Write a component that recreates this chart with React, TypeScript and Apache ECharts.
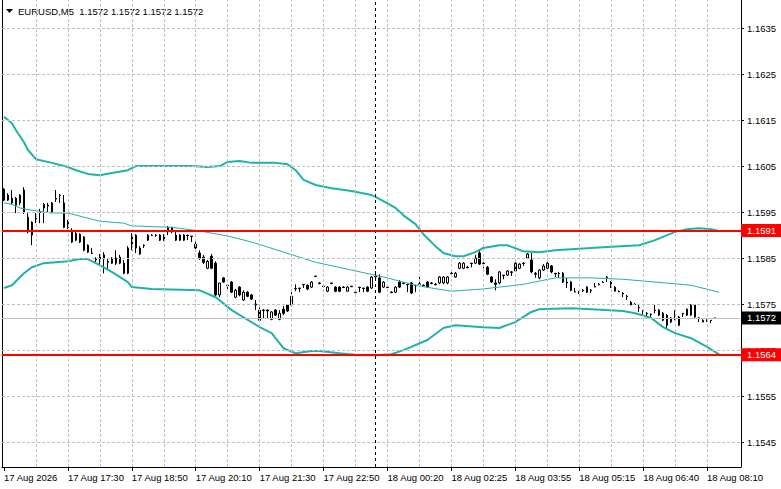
import React, { useEffect, useRef } from "react";
import * as echarts from "echarts";

const FONT = "Liberation Sans";
const FS = 9.5;

const tickLabels = [
  "17 Aug 2026", "17 Aug 17:30", "17 Aug 18:50", "17 Aug 20:10", "17 Aug 21:30", "17 Aug 22:50",
  "18 Aug 00:20", "18 Aug 02:25", "18 Aug 03:55", "18 Aug 05:15", "18 Aug 06:40", "18 Aug 08:10",
];
const labelEvery = 16;
const gridEvery = 8;
const slotCount = 185;

const priceTicks = [1.1545, 1.1555, 1.1565, 1.1575, 1.1585, 1.1595, 1.1605, 1.1615, 1.1625, 1.1635];
const yMin = 1.15396;
const yMax = 1.16411;

const resistanceLevel = 1.1591;
const supportLevel = 1.1564;
const lastPrice = 1.1572;
const separatorIndex = 93;

const opens = [
  1.16000, 1.15976, 1.15980, 1.15980, 1.15970, 1.15998, 1.15939, 1.15900, 1.15933, 1.15950,
  1.15959, 1.15965, 1.15950, 1.15978, 1.15987, 1.15970, 1.15928, 1.15907, 1.15904, 1.15902,
  1.15896, 1.15878, 1.15861, 1.15848, 1.15854, 1.15857, 1.15843, 1.15850, 1.15850, 1.15852,
  1.15839, 1.15817, 1.15874, 1.15900, 1.15859, 1.15878, 1.15889, 1.15900, 1.15900, 1.15900,
  1.15900, 1.15907, 1.15907, 1.15900, 1.15900, 1.15900, 1.15900, 1.15898, 1.15880, 1.15861,
  1.15852, 1.15828, 1.15854, 1.15839, 1.15770, 1.15807, 1.15791, 1.15798, 1.15765, 1.15787,
  1.15759, 1.15776, 1.15770, 1.15750, 1.15737, 1.15737, 1.15737, 1.15717, 1.15737, 1.15717,
  1.15739, 1.15748, 1.15748, 1.15783, 1.15785, 1.15793, 1.15791, 1.15787, 1.15811, 1.15796,
  1.15789, 1.15778, 1.15796, 1.15787, 1.15787, 1.15787, 1.15778, 1.15789, 1.15776, 1.15787,
  1.15785, 1.15787, 1.15785, 1.15809, 1.15807, 1.15787, 1.15787, 1.15776, 1.15776, 1.15798,
  1.15796, 1.15793, 1.15796, 1.15791, 1.15793, 1.15791, 1.15798, 1.15796, 1.15793, 1.15796,
  1.15796, 1.15796, 1.15817, 1.15809, 1.15828, 1.15828, 1.15830, 1.15839, 1.15839, 1.15861,
  1.15839, 1.15830, 1.15809, 1.15796, 1.15796, 1.15813, 1.15813, 1.15820, 1.15839, 1.15828,
  1.15839, 1.15850, 1.15846, 1.15817, 1.15807, 1.15824, 1.15828, 1.15833, 1.15817, 1.15817,
  1.15817, 1.15798, 1.15798, 1.15776, 1.15778, 1.15780, 1.15776, 1.15780, 1.15787, 1.15793,
  1.15798, 1.15809, 1.15798, 1.15778, 1.15778, 1.15774, 1.15767, 1.15748, 1.15750, 1.15743,
  1.15735, 1.15730, 1.15728, 1.15737, 1.15726, 1.15730, 1.15726, 1.15711, 1.15726, 1.15722,
  1.15730, 1.15726, 1.15726, 1.15748, 1.15720, 1.15711, 1.15715, 1.15715, 1.15720,
];

const closes = [
  1.15976, 1.15987, 1.15970, 1.15965, 1.15987, 1.15950, 1.15907, 1.15928, 1.15937, 1.15949,
  1.15967, 1.15963, 1.15970, 1.15980, 1.15986, 1.15917, 1.15917, 1.15885, 1.15889, 1.15885,
  1.15867, 1.15863, 1.15860, 1.15846, 1.15843, 1.15848, 1.15841, 1.15839, 1.15839, 1.15839,
  1.15817, 1.15872, 1.15900, 1.15872, 1.15872, 1.15877, 1.15900, 1.15899, 1.15899, 1.15889,
  1.15889, 1.15917, 1.15917, 1.15889, 1.15889, 1.15889, 1.15899, 1.15897, 1.15872, 1.15850,
  1.15841, 1.15843, 1.15828, 1.15770, 1.15796, 1.15798, 1.15790, 1.15776, 1.15780, 1.15770,
  1.15776, 1.15767, 1.15761, 1.15748, 1.15715, 1.15736, 1.15735, 1.15733, 1.15726, 1.15730,
  1.15730, 1.15735, 1.15767, 1.15784, 1.15784, 1.15792, 1.15783, 1.15798, 1.15810, 1.15795,
  1.15788, 1.15787, 1.15795, 1.15778, 1.15778, 1.15786, 1.15787, 1.15788, 1.15775, 1.15786,
  1.15784, 1.15778, 1.15809, 1.15811, 1.15776, 1.15798, 1.15786, 1.15775, 1.15787, 1.15787,
  1.15795, 1.15792, 1.15774, 1.15790, 1.15794, 1.15790, 1.15787, 1.15795, 1.15792, 1.15809,
  1.15809, 1.15809, 1.15816, 1.15817, 1.15839, 1.15839, 1.15829, 1.15838, 1.15850, 1.15837,
  1.15838, 1.15815, 1.15798, 1.15793, 1.15820, 1.15812, 1.15822, 1.15819, 1.15822, 1.15837,
  1.15838, 1.15859, 1.15820, 1.15815, 1.15824, 1.15833, 1.15839, 1.15820, 1.15816, 1.15816,
  1.15798, 1.15796, 1.15780, 1.15777, 1.15777, 1.15779, 1.15787, 1.15779, 1.15788, 1.15792,
  1.15797, 1.15808, 1.15787, 1.15787, 1.15777, 1.15772, 1.15766, 1.15754, 1.15749, 1.15742,
  1.15734, 1.15729, 1.15727, 1.15736, 1.15737, 1.15715, 1.15704, 1.15720, 1.15725, 1.15704,
  1.15729, 1.15739, 1.15748, 1.15722, 1.15719, 1.15715, 1.15714, 1.15714, 1.15720,
];

const lows = [
  1.15974, 1.15974, 1.15967, 1.15948, 1.15965, 1.15946, 1.15904, 1.15878, 1.15926, 1.15926,
  1.15926, 1.15950, 1.15948, 1.15972, 1.15970, 1.15915, 1.15913, 1.15883, 1.15887, 1.15883,
  1.15865, 1.15861, 1.15859, 1.15841, 1.15835, 1.15817, 1.15824, 1.15837, 1.15835, 1.15837,
  1.15815, 1.15815, 1.15867, 1.15861, 1.15857, 1.15872, 1.15887, 1.15898, 1.15896, 1.15887,
  1.15887, 1.15900, 1.15904, 1.15887, 1.15887, 1.15887, 1.15889, 1.15885, 1.15867, 1.15846,
  1.15837, 1.15826, 1.15826, 1.15765, 1.15765, 1.15796, 1.15783, 1.15774, 1.15763, 1.15767,
  1.15757, 1.15765, 1.15759, 1.15737, 1.15711, 1.15720, 1.15720, 1.15715, 1.15724, 1.15715,
  1.15726, 1.15733, 1.15746, 1.15778, 1.15776, 1.15785, 1.15780, 1.15785, 1.15809, 1.15793,
  1.15787, 1.15776, 1.15793, 1.15776, 1.15776, 1.15785, 1.15778, 1.15787, 1.15774, 1.15776,
  1.15776, 1.15776, 1.15783, 1.15804, 1.15774, 1.15785, 1.15785, 1.15774, 1.15774, 1.15785,
  1.15793, 1.15776, 1.15772, 1.15776, 1.15791, 1.15789, 1.15785, 1.15793, 1.15791, 1.15793,
  1.15793, 1.15793, 1.15815, 1.15807, 1.15826, 1.15826, 1.15828, 1.15830, 1.15837, 1.15835,
  1.15828, 1.15813, 1.15796, 1.15780, 1.15793, 1.15804, 1.15811, 1.15811, 1.15820, 1.15826,
  1.15833, 1.15848, 1.15817, 1.15807, 1.15804, 1.15822, 1.15826, 1.15817, 1.15809, 1.15807,
  1.15796, 1.15785, 1.15778, 1.15776, 1.15772, 1.15776, 1.15774, 1.15774, 1.15787, 1.15791,
  1.15796, 1.15798, 1.15785, 1.15778, 1.15776, 1.15765, 1.15759, 1.15748, 1.15748, 1.15733,
  1.15726, 1.15722, 1.15722, 1.15730, 1.15724, 1.15713, 1.15698, 1.15709, 1.15715, 1.15702,
  1.15722, 1.15724, 1.15724, 1.15720, 1.15711, 1.15711, 1.15711, 1.15709, 1.15720,
];

const highs = [
  1.16002, 1.15991, 1.15998, 1.15983, 1.15989, 1.16004, 1.15950, 1.15930, 1.15948, 1.15957,
  1.15970, 1.15970, 1.15972, 1.15998, 1.15989, 1.15987, 1.15933, 1.15915, 1.15907, 1.15904,
  1.15898, 1.15880, 1.15872, 1.15852, 1.15859, 1.15863, 1.15850, 1.15852, 1.15867, 1.15857,
  1.15846, 1.15876, 1.15904, 1.15902, 1.15876, 1.15880, 1.15902, 1.15902, 1.15902, 1.15902,
  1.15902, 1.15920, 1.15917, 1.15911, 1.15902, 1.15902, 1.15900, 1.15898, 1.15885, 1.15867,
  1.15857, 1.15846, 1.15859, 1.15843, 1.15796, 1.15809, 1.15793, 1.15800, 1.15783, 1.15789,
  1.15780, 1.15778, 1.15772, 1.15759, 1.15743, 1.15739, 1.15739, 1.15735, 1.15739, 1.15737,
  1.15746, 1.15750, 1.15776, 1.15793, 1.15785, 1.15793, 1.15793, 1.15800, 1.15811, 1.15798,
  1.15791, 1.15789, 1.15796, 1.15789, 1.15789, 1.15789, 1.15789, 1.15789, 1.15778, 1.15787,
  1.15785, 1.15789, 1.15811, 1.15822, 1.15815, 1.15800, 1.15789, 1.15778, 1.15789, 1.15802,
  1.15798, 1.15793, 1.15798, 1.15791, 1.15811, 1.15793, 1.15800, 1.15798, 1.15796, 1.15811,
  1.15811, 1.15811, 1.15820, 1.15820, 1.15841, 1.15841, 1.15833, 1.15839, 1.15857, 1.15867,
  1.15841, 1.15833, 1.15811, 1.15804, 1.15822, 1.15813, 1.15824, 1.15822, 1.15841, 1.15839,
  1.15841, 1.15861, 1.15861, 1.15820, 1.15826, 1.15837, 1.15846, 1.15835, 1.15817, 1.15820,
  1.15820, 1.15807, 1.15800, 1.15785, 1.15778, 1.15783, 1.15789, 1.15783, 1.15796, 1.15796,
  1.15800, 1.15811, 1.15800, 1.15789, 1.15780, 1.15776, 1.15770, 1.15757, 1.15752, 1.15748,
  1.15737, 1.15733, 1.15730, 1.15748, 1.15739, 1.15733, 1.15728, 1.15722, 1.15737, 1.15724,
  1.15730, 1.15741, 1.15750, 1.15750, 1.15722, 1.15717, 1.15717, 1.15715, 1.15720,
];

const upperBand = [
  [0, 1.16157], [1, 1.1615], [2, 1.16143], [3, 1.16128], [4, 1.16115], [5, 1.16102], [6, 1.16085],
  [8, 1.16065], [12, 1.16057], [16, 1.16048], [18, 1.16041], [21, 1.16033], [24, 1.1603], [27, 1.16035],
  [31, 1.16041], [33, 1.1605], [47, 1.1605], [51, 1.16048], [54, 1.1605], [56, 1.16059], [59, 1.16061],
  [62, 1.16057], [68, 1.16057], [71, 1.16054], [73, 1.16041], [75, 1.1602], [78, 1.16009], [82, 1.16002],
  [87, 1.15996], [92, 1.15987], [93, 1.15983], [95, 1.15974], [98, 1.15959], [100, 1.15943],
  [103, 1.15924], [105, 1.15902], [108, 1.15876], [110, 1.15861], [113, 1.15854], [115, 1.15854],
  [118, 1.15863], [120, 1.15872], [124, 1.15878], [126, 1.15878], [130, 1.15865], [134, 1.15863],
  [138, 1.15867], [147, 1.15872], [151, 1.15874], [159, 1.15878], [163, 1.15889], [168, 1.15907],
  [171, 1.15913], [174, 1.15915], [177, 1.15913], [179, 1.15909],
];

const middleBand = [
  [0, 1.1597], [2, 1.15967], [4, 1.15959], [7, 1.15954], [12, 1.15948], [16, 1.15948], [20, 1.15939],
  [24, 1.1593], [30, 1.15926], [32, 1.1592], [42, 1.15917], [49, 1.15909], [56, 1.15898], [62, 1.15885],
  [70, 1.15863], [78, 1.15841], [87, 1.15824], [95, 1.15809], [103, 1.15791], [107, 1.15785],
  [112, 1.15778], [120, 1.15783], [124, 1.15787], [130, 1.15793], [134, 1.158], [138, 1.15807],
  [147, 1.15807], [155, 1.15804], [163, 1.15798], [172, 1.15791], [179, 1.15776],
];

const lowerBand = [
  [0, 1.15785], [2, 1.15791], [5, 1.15817], [7, 1.1583], [10, 1.15839], [16, 1.15843], [19, 1.15848],
  [21, 1.15848], [23, 1.15839], [27, 1.1582], [31, 1.15798], [32, 1.15787], [37, 1.15783], [49, 1.1578],
  [53, 1.15765], [57, 1.15737], [64, 1.157], [67, 1.15687], [70, 1.15654], [73, 1.15643], [77, 1.15648],
  [79, 1.15648], [84, 1.15643], [89, 1.15639], [93, 1.15639], [97, 1.15641], [100, 1.1565],
  [106, 1.15672], [110, 1.15698], [113, 1.15704], [120, 1.157], [124, 1.15698], [128, 1.15711],
  [132, 1.15733], [134, 1.15739], [142, 1.15741], [147, 1.15739], [155, 1.15735], [158, 1.1573],
  [162, 1.1572], [165, 1.157], [168, 1.15687], [172, 1.15676], [176, 1.15657], [179, 1.15641],
];

const BAND_COLOR = "#20b2aa";
const GRID_COLOR = "#c0c0c0";

export default function App() {
  const ref = useRef<HTMLDivElement>(null);

  useEffect(() => {
    if (!ref.current) return;
    const chart = echarts.init(ref.current, null, { renderer: "svg" });

    const categories = Array.from({ length: slotCount }, (_, i) => String(i));
    const candles = opens.map((o, i) => [o, closes[i], lows[i], highs[i]]);
    const vGrid: number[] = [];
    for (let i = gridEvery; i < slotCount - 4; i += gridEvery) vGrid.push(i);

    const priceLabel = (text: string, bg: string) => ({
      show: true,
      position: "end",
      distance: 0,
      formatter: text,
      backgroundColor: bg,
      color: "#ffffff",
      fontSize: FS,
      fontFamily: FONT,
      padding: [2, 7, 1, 6],
    });

    const option: any = {
      animation: false,
      backgroundColor: "#ffffff",
      textStyle: { fontFamily: FONT },
      grid: { left: 2, right: 40, top: 0, bottom: 22, containLabel: false },
      xAxis: {
        type: "category",
        data: categories,
        boundaryGap: true,
        axisLine: { show: true, onZero: false, lineStyle: { color: "#000000", width: 1 } },
        axisTick: {
          show: true,
          alignWithLabel: true,
          interval: labelEvery - 1,
          length: 4,
          lineStyle: { color: "#000000" },
        },
        axisLabel: {
          interval: labelEvery - 1,
          align: "left",
          margin: 5,
          fontSize: FS,
          fontFamily: FONT,
          color: "#000000",
          formatter: (_v: string, idx: number) => tickLabels[idx / labelEvery] ?? "",
        },
        splitLine: { show: false },
      },
      yAxis: [
        {
          type: "value",
          position: "right",
          min: yMin,
          max: yMax,
          axisLine: { show: true, onZero: false, lineStyle: { color: "#000000" } },
          axisTick: { show: true, length: 3, customValues: priceTicks, lineStyle: { color: "#000000" } },
          axisLabel: {
            customValues: priceTicks,
            formatter: (v: number) => v.toFixed(4),
            margin: 6,
            fontSize: FS,
            fontFamily: FONT,
            color: "#000000",
          },
          splitLine: { show: false },
        },
        {
          type: "value",
          position: "left",
          min: yMin,
          max: yMax,
          axisLine: { show: true, onZero: false, lineStyle: { color: "#000000" } },
          axisTick: { show: false },
          axisLabel: { show: false },
          splitLine: { show: false },
        },
      ],
      graphic: [
        {
          type: "polygon",
          left: 6,
          top: 9,
          shape: { points: [[0, 0], [7, 0], [3.5, 4]] },
          style: { fill: "#000000" },
        },
        {
          type: "text",
          left: 18,
          top: 6,
          style: {
            text: "EURUSD,M5  1.1572 1.1572 1.1572 1.1572",
            fontSize: FS,
            fontFamily: FONT,
            fill: "#000000",
          },
        },
      ],
      series: [
        {
          name: "grid",
          type: "line",
          data: [],
          silent: true,
          z: 1,
          markLine: {
            silent: true,
            precision: 6,
            symbol: ["none", "none"],
            animation: false,
            label: { show: false },
            emphasis: { disabled: true },
            lineStyle: { color: GRID_COLOR, type: [3, 2], width: 1 },
            data: [
              ...priceTicks.map((v) => ({ yAxis: v })),
              ...vGrid.map((i) => ({ xAxis: i })),
            ],
          },
        },
        {
          name: "EURUSD",
          type: "candlestick",
          data: candles,
          barWidth: 2,
          z: 3,
          silent: true,
          itemStyle: {
            color: "#ffffff",
            color0: "#000000",
            borderColor: "#000000",
            borderColor0: "#000000",
            borderWidth: 1,
          },
        },
        {
          name: "upper",
          type: "line",
          data: upperBand,
          showSymbol: false,
          silent: true,
          z: 4,
          lineStyle: { color: BAND_COLOR, width: 2 },
        },
        {
          name: "middle",
          type: "line",
          data: middleBand,
          showSymbol: false,
          silent: true,
          z: 4,
          lineStyle: { color: BAND_COLOR, width: 1 },
        },
        {
          name: "lower",
          type: "line",
          data: lowerBand,
          showSymbol: false,
          silent: true,
          z: 4,
          lineStyle: { color: BAND_COLOR, width: 2 },
        },
        {
          name: "levels",
          type: "line",
          data: [],
          silent: true,
          z: 5,
          markLine: {
            silent: true,
            precision: 6,
            symbol: ["none", "none"],
            animation: false,
            emphasis: { disabled: true },
            data: [
              {
                yAxis: lastPrice,
                lineStyle: { color: GRID_COLOR, width: 1, type: "solid" },
                label: priceLabel(lastPrice.toFixed(4), "#000000"),
              },
              {
                xAxis: separatorIndex,
                lineStyle: { color: "#000000", width: 1, type: [3, 3] },
                label: { show: false },
              },
              {
                yAxis: resistanceLevel,
                lineStyle: { color: "#ff0000", width: 2, type: "solid" },
                label: priceLabel(resistanceLevel.toFixed(4), "#ff0000"),
              },
              {
                yAxis: supportLevel,
                lineStyle: { color: "#ff0000", width: 2, type: "solid" },
                label: priceLabel(supportLevel.toFixed(4), "#ff0000"),
              },
            ],
          },
        },
      ],
    };

    chart.setOption(option);
    return () => chart.dispose();
  }, []);

  return (
    <div
      ref={ref}
      style={{ position: "fixed", left: 0, top: 0, width: 781, height: 489, background: "#ffffff" }}
    />
  );
}
